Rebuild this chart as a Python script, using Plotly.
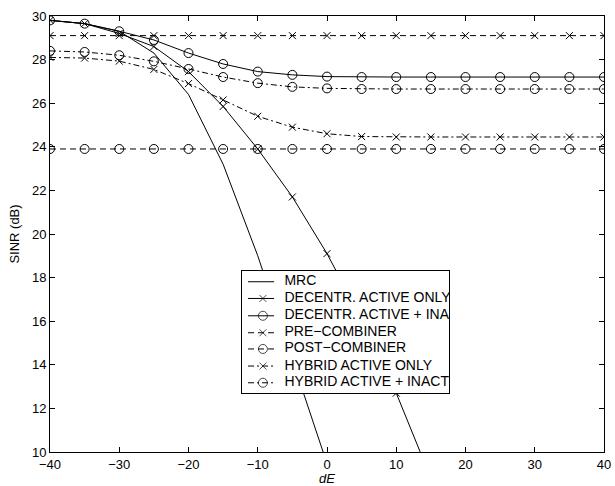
import plotly.graph_objects as go

dE = [-40, -35, -30, -25, -20, -15, -10, -5, 0, 5, 10, 15, 20, 25, 30, 35, 40]

mrc = [29.8, 29.65, 29.3, 28.3, 26.4, 23.2, 19.0, 14.3, 9.5, 4.7]
decentr_active = [29.8, 29.65, 29.2, 28.6, 27.45, 25.85, 23.9, 21.7, 19.1, 16.1, 12.7, 8.8]
decentr_all = [29.8, 29.65, 29.3, 28.9, 28.3, 27.8, 27.45, 27.3, 27.22, 27.2, 27.2, 27.2, 27.2, 27.2, 27.2, 27.2, 27.2]
pre_comb = [29.1] * 17
post_comb = [23.9] * 17
hybrid_active = [28.1, 28.07, 27.93, 27.55, 26.9, 26.15, 25.4, 24.9, 24.6, 24.47, 24.45, 24.45, 24.45, 24.45, 24.45, 24.45, 24.45]
hybrid_all = [28.4, 28.35, 28.2, 27.92, 27.57, 27.2, 26.92, 26.75, 26.68, 26.65, 26.65, 26.65, 26.65, 26.65, 26.65, 26.65, 26.65]

names = ["MRC", "DECENTR. ACTIVE ONLY", "DECENTR. ACTIVE + INACTIVE", "PRE\u2212COMBINER",
         "POST\u2212COMBINER", "HYBRID ACTIVE ONLY", "HYBRID ACTIVE + INACTIVE"]

series = [mrc, decentr_active, decentr_all, pre_comb, post_comb, hybrid_active, hybrid_all]
dashes = ["solid", "solid", "solid", "6px,4px", "6px,4px", "6px,3px,2px,3px", "6px,3px,2px,3px"]
symbols = [None, "x-thin-open", "circle-open", "x-thin-open", "circle-open", "x-thin-open", "circle-open"]

FONT = "Liberation Sans, Arial, Helvetica, sans-serif"

fig = go.Figure()
for name, ys, dash, sym in zip(names, series, dashes, symbols):
    xs = dE[:len(ys)]
    if sym is None:
        fig.add_trace(go.Scatter(x=xs, y=ys, name=name, mode="lines", showlegend=False,
                                 line=dict(color="black", width=1, dash=dash)))
    else:
        size = 7 if sym.startswith("x") else 9
        fig.add_trace(go.Scatter(x=xs, y=ys, name=name, mode="lines+markers", showlegend=False,
                                 line=dict(color="black", width=1, dash=dash),
                                 marker=dict(symbol=sym, size=size, color="black",
                                             line=dict(color="black", width=1))))

# ---- legend drawn in its own small boxed subplot (so long names are clipped like the original) ----
row_y = [0.912, 0.775, 0.633, 0.494, 0.361, 0.221, 0.084]
sample_x = [0.029, 0.101, 0.155]
for name, ry, dash, sym in zip(names, row_y, dashes, symbols):
    if sym is None:
        fig.add_trace(go.Scatter(x=[sample_x[0], sample_x[2]], y=[ry, ry], mode="lines",
                                 xaxis="x2", yaxis="y2", showlegend=False, hoverinfo="skip",
                                 line=dict(color="black", width=1, dash=dash)))
    else:
        size = 7 if sym.startswith("x") else 9
        fig.add_trace(go.Scatter(x=sample_x, y=[ry] * 3, mode="lines+markers",
                                 xaxis="x2", yaxis="y2", showlegend=False, hoverinfo="skip",
                                 line=dict(color="black", width=1, dash=dash),
                                 marker=dict(symbol=sym, size=[0, size, 0], color="black",
                                             line=dict(color="black", width=1))))
fig.add_trace(go.Scatter(x=[0.205] * len(names), y=row_y, text=names, mode="text",
                         textposition="middle right", cliponaxis=True,
                         textfont=dict(family=FONT, size=14, color="black"),
                         xaxis="x2", yaxis="y2", showlegend=False, hoverinfo="skip"))

fig.update_layout(
    width=615, height=486,
    margin=dict(l=50, r=11, t=16, b=34, autoexpand=False),
    plot_bgcolor="white", paper_bgcolor="white",
    font=dict(family=FONT, size=13, color="black"),
    showlegend=False,
    xaxis=dict(range=[-40, 40], tickvals=[-40, -30, -20, -10, 0, 10, 20, 30, 40],
               ticks="inside", ticklen=5, tickcolor="black", showline=True,
               linecolor="black", linewidth=1, mirror="ticks", showgrid=False,
               zeroline=False, tickfont=dict(size=13), automargin=False,
               title=dict(text="<i>dE</i>", standoff=3, font=dict(size=13))),
    yaxis=dict(range=[10, 30], tickvals=list(range(10, 31, 2)),
               ticks="inside", ticklen=5, tickcolor="black", showline=True,
               linecolor="black", linewidth=1, mirror="ticks", showgrid=False,
               zeroline=False, tickfont=dict(size=13), automargin=False,
               title=dict(text="SINR (dB)", standoff=9, font=dict(size=13))),
    xaxis2=dict(domain=[0.3466, 0.7202], range=[0, 1], anchor="y2", showline=True,
                linecolor="black", linewidth=1, mirror=True, showgrid=False, automargin=False,
                zeroline=False, showticklabels=False, ticks="", fixedrange=True),
    yaxis2=dict(domain=[0.1353, 0.4151], range=[0, 1], anchor="x2", showline=True,
                linecolor="black", linewidth=1, mirror=True, showgrid=False, automargin=False,
                zeroline=False, showticklabels=False, ticks="", fixedrange=True),
)

fig.write_html("out.html", config={"displayModeBar": False},
               post_script="document.body.style.margin='0px';")
